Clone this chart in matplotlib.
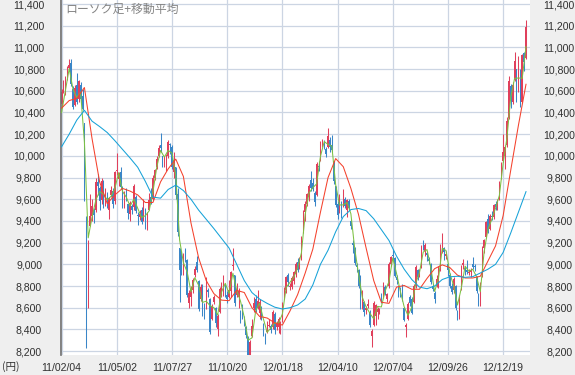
import numpy as np
import matplotlib
matplotlib.use("Agg")
import matplotlib.pyplot as plt

# ---------------- data (each candle = 2 trading days) ----------------
date_labels = ["11/02/04", "11/05/02", "11/07/27", "11/10/20", "12/01/18",
               "12/04/10", "12/07/04", "12/09/26", "12/12/19"]
label_pos = [0, 29, 58, 87, 116, 145, 174, 203, 232]

opens = [10480, 10600, 10610, 10730, 10810, 10860, 10620, 10470,
         10650, 10520, 10650, 10550, 10300, 9440, 8960, 9350, 9450, 9500, 9500,
         9760, 9700, 9590, 9750, 9560, 9640, 9500, 9640, 9680, 9580,
         9860, 9790, 9850, 9700, 9540, 9650, 9560, 9460, 9540, 9530,
         9620, 9450, 9440, 9500, 9420, 9500, 9340, 9500, 9620, 9600,
         9800, 9900, 10000, 10100, 10000, 9960, 9900, 10000, 10100,
         10080, 9850, 9900, 9650, 9150, 9100, 8950, 9100, 9040, 8640, 8700, 8760, 8900,
         9020, 8850, 8680, 8800, 8580, 8600, 8760, 8680, 8500, 8650,
         8600, 8400, 8560, 8760, 8750, 8800,
         8720, 8700, 8750, 8980, 8900, 8720, 8700, 8550, 8580, 8500, 8420, 8330, 8150, 8340,
         8600, 8680, 8600, 8550, 8600, 8450, 8350, 8380, 8430, 8430, 8420, 8540, 8420, 8420, 8400,
         8480, 8700, 8760, 8900, 8790, 8790, 8850, 8910, 9020, 8970, 9080, 9300, 9480, 9560, 9620,
         9780, 9750, 9660, 9640, 9900, 9960, 10100, 10140, 10060, 10080, 10150, 10100, 9950, 9720,
         9560, 9480, 9560, 9540, 9600, 9500, 9580, 9400, 9200, 9150, 8990, 8950, 8850, 8600, 8650, 8580, 8620,
         8560, 8340, 8440, 8520, 8560, 8560, 8680, 8700, 8790, 8680, 8800, 9000,
         9080, 9060, 8880, 8800, 8750, 8760, 8600, 8420, 8500, 8700, 8680, 8650, 8800, 8950, 8900, 8980, 9200, 9120, 9100, 9050, 9000,
         8800, 8740, 8800, 8840, 8950, 9140, 9150, 9080,
         9000, 8900, 8800, 8760, 8800, 8560, 8520, 8780, 8990, 8960, 8950, 8920, 8930,
         9000, 8980, 8880, 8730, 8650, 8900, 9150, 9250, 9420, 9330, 9450, 9440, 9560, 9520, 9600, 9840,
         9950, 10000, 10100, 10350, 10640, 10500, 10700, 10800, 10600, 10740, 10500, 10950, 10900]

highs = [10620, 10700, 10740, 10830, 10890, 10890, 10640, 10650,
         10760, 10700, 10680, 10620, 10300, 9450, 9220, 9650, 9600, 9520, 9800,
         9830, 9720, 9800, 9780, 9700, 9670, 9620, 9720, 9700, 9860,
         10030, 9850, 9900, 9720, 9680, 9700, 9560, 9580, 9560, 9740,
         9640, 9480, 9500, 9530, 9600, 9520, 9480, 9660, 9700, 9820,
         9880, 10000, 10100, 10210, 10000, 10000, 10020, 10150, 10120,
         10100, 10040, 9900, 9700, 9150, 9120, 9100, 9150, 9050, 8760, 8800, 8870, 8980,
         9080, 8860, 8820, 8820, 8640, 8880, 8780, 8690, 8630, 8720,
         8610, 8540, 8790, 8840, 8900, 8820,
         8750, 8860, 8940, 9150, 8900, 8830, 8780, 8580, 8630, 8520, 8430, 8340, 8300, 8500,
         8700, 8720, 8760, 8680, 8620, 8460, 8370, 8480, 8500, 8450, 8580, 8560, 8480, 8510, 8480,
         8650, 8790, 8890, 8920, 8830, 8890, 8940, 9020, 9060, 9070, 9260, 9500, 9580, 9660, 9740,
         9860, 9800, 9680, 9940, 9950, 10140, 10160, 10150, 10080, 10255, 10170, 10190, 9950, 9720,
         9580, 9650, 9580, 9690, 9620, 9600, 9600, 9420, 9220, 9160, 9010, 8960, 8900, 8760, 8660, 8620, 8680,
         8580, 8400, 8660, 8630, 8610, 8600, 8740, 8840, 8810, 8740, 9020, 9080,
         9140, 9070, 8900, 8810, 8790, 8820, 8610, 8460, 8650, 8720, 8700, 8820, 8990, 8960, 8960, 9180, 9220, 9200, 9120, 9070, 9010,
         8820, 8750, 8900, 8980, 9190, 9290, 9160, 9120,
         9010, 8920, 8830, 8880, 8810, 8580, 8720, 8990, 9050, 8980, 9040, 8960, 8970,
         9070, 9000, 8890, 8740, 8840, 9170, 9230, 9400, 9460, 9460, 9490, 9560, 9580, 9600, 9770, 9940,
         10200, 10100, 10360, 10740, 10660, 10680, 10960, 10800, 10920, 10800, 10940, 10960, 11250]

lows = [10460, 10580, 10560, 10700, 10780, 10640, 10430, 10460,
        10480, 10500, 10480, 10420, 9580, 8227, 8600, 9350, 9400, 9380, 9480,
        9640, 9500, 9560, 9520, 9540, 9520, 9420, 9620, 9520, 9560,
        9820, 9720, 9700, 9520, 9520, 9580, 9420, 9400, 9460, 9500,
        9470, 9360, 9410, 9370, 9400, 9330, 9320, 9500, 9560, 9590,
        9780, 9880, 9990, 10040, 9900, 9900, 9860, 9980, 10020,
        9880, 9800, 9600, 9260, 8656, 8900, 8900, 9020, 8700, 8600, 8620, 8740, 8880,
        8930, 8570, 8660, 8520, 8500, 8590, 8700, 8360, 8490, 8630,
        8420, 8343, 8550, 8700, 8710, 8700,
        8640, 8690, 8700, 8950, 8620, 8700, 8600, 8460, 8500, 8430, 8320, 8150, 8135, 8330,
        8560, 8560, 8590, 8500, 8490, 8340, 8270, 8370, 8420, 8370, 8400, 8360, 8390, 8370, 8360,
        8470, 8680, 8740, 8800, 8760, 8770, 8820, 8880, 8930, 8960, 9040, 9290, 9400, 9540, 9580,
        9680, 9680, 9540, 9630, 9860, 9950, 10080, 10060, 9990, 10070, 10040, 10040, 9740, 9530,
        9420, 9470, 9430, 9530, 9520, 9440, 9500, 9330, 9100, 8990, 8930, 8780, 8590, 8590, 8520, 8540, 8600,
        8420, 8238, 8430, 8440, 8500, 8540, 8640, 8690, 8720, 8650, 8780, 8980,
        9040, 8880, 8820, 8700, 8700, 8660, 8480, 8328, 8490, 8620, 8540, 8640, 8780, 8860, 8880, 8970, 9130, 9080, 9030, 9000, 8820,
        8750, 8640, 8790, 8780, 8940, 9100, 9040, 9050,
        8890, 8780, 8730, 8740, 8580, 8488, 8500, 8760, 8960, 8900, 8910, 8900, 8880,
        8960, 8940, 8740, 8620, 8620, 8880, 9100, 9240, 9290, 9320, 9410, 9420, 9500, 9500, 9590, 9790,
        9940, 9880, 10080, 10340, 10440, 10480, 10690, 10500, 10590, 10450, 10490, 10780, 10890]

closes = [10592, 10617, 10725, 10808, 10842, 10665, 10452, 10624,
          10492, 10693, 10525, 10434, 9620, 9093, 9207, 9449, 9536, 9459, 9755,
          9718, 9584, 9768, 9555, 9653, 9556, 9607, 9682, 9558, 9849,
          9870, 9819, 9716, 9558, 9662, 9607, 9477, 9562, 9504, 9719,
          9492, 9442, 9467, 9391, 9574, 9351, 9459, 9597, 9578, 9797,
          9868, 9972, 10071, 10069, 9963, 9974, 10005, 10132, 10097,
          9901, 9965, 9637, 9299, 8944, 8981, 9086, 9057, 8719, 8733, 8772, 8851, 8955,
          8950, 8590, 8793, 8535, 8518, 8864, 8741, 8374, 8615, 8700,
          8456, 8522, 8773, 8823, 8879, 8772,
          8678, 8762, 8926, 8988, 8640, 8767, 8755, 8514, 8541, 8479, 8349, 8165, 8287, 8434,
          8643, 8575, 8664, 8653, 8519, 8401, 8336, 8395, 8440, 8398, 8560, 8390, 8448, 8500, 8466,
          8639, 8765, 8883, 8841, 8802, 8876, 8929, 9002, 8947, 9052, 9238, 9485, 9554, 9647, 9722,
          9707, 9698, 9576, 9929, 9899, 10123, 10141, 10127, 10018, 10182, 10083, 10050, 9767, 9546,
          9458, 9637, 9464, 9588, 9542, 9590, 9520, 9350, 9181, 9009, 8973, 8801, 8611, 8729, 8563, 8593, 8633,
          8440, 8383, 8640, 8624, 8587, 8569, 8656, 8824, 8735, 8730, 9006, 9066,
          9079, 8896, 8851, 8724, 8726, 8669, 8488, 8443, 8635, 8641, 8555, 8804, 8978, 8885, 8929, 9162, 9156, 9178, 9085, 9033, 8839,
          8775, 8680, 8869, 8960, 9159, 9232, 9110, 9091,
          8949, 8796, 8746, 8863, 8596, 8534, 8701, 8983, 9010, 8955, 8933, 8929, 8946,
          8975, 8972, 8757, 8661, 8830, 9153, 9222, 9389, 9308, 9446, 9432, 9545, 9533, 9581, 9737, 9923,
          10039, 10080, 10322, 10688, 10508, 10652, 10879, 10609, 10747, 10487, 10926, 10866, 11191]

# moving averages (green: every 2 candles, red/blue: every 4 candles)
ma_short = [10400, 10600, 10805, 10615, 10537, 10586, 10127, 9244, 9435, 9593,
            9672, 9646, 9595, 9627, 9699, 9845, 9673, 9619, 9537, 9602,
            9517, 9432, 9448, 9493, 9669, 9895, 10050, 9989, 10050, 10026,
            9821, 9225, 9016, 8928, 8746, 8877, 8807, 8649, 8660, 8619,
            8601, 8531, 8743, 8825, 8730, 8918, 8760, 8661, 8511, 8301,
            8321, 8574, 8642, 8499, 8373, 8414, 8460, 8457, 8542, 8787,
            8834, 8882, 8965, 9105, 9463, 9658, 9706, 9742, 9995, 10132,
            10105, 10090, 9735, 9547, 9548, 9570, 9466, 9146, 8911, 8696,
            8608, 8548, 8497, 8612, 8607, 8755, 8841, 9059, 8915, 8750,
            8608, 8529, 8605, 8824, 8921, 9113, 9136, 8966, 8750, 8868,
            9148, 9127, 8916, 8803, 8625, 8780, 8983, 8936, 8954, 8887,
            8748, 9116, 9323, 9413, 9518, 9634, 9932, 10169, 10543, 10714,
            10718, 10715, 11008]

ma_mid = [10440, 10510, 10530, 10630, 10160, 9760, 9560, 9640, 9700, 9675,
          9640, 9570, 9570, 9760, 9880, 9970, 9810, 9380, 9060, 8850,
          8730, 8670, 8665, 8760, 8740, 8600, 8520, 8505, 8460, 8440,
          8570, 8720, 8920, 9140, 9480, 9800, 9975, 9900, 9700, 9460,
          9150, 8850, 8650, 8640, 8790, 8805, 8770, 8770, 8870, 8960,
          8995, 8970, 8900, 8874, 8874, 8890, 9030, 9170, 9450, 9870,
          10280, 10660]

ma_long = [10084, 10200, 10330, 10420, 10320, 10270, 10215, 10140, 10060, 9980,
           9895, 9765, 9620, 9610, 9690, 9730, 9680, 9600, 9500, 9415,
           9330, 9240, 9150, 9000, 8850, 8740, 8680, 8640, 8605, 8588,
           8600, 8625, 8680, 8810, 9000, 9130, 9300, 9440, 9505, 9515,
           9495, 9420, 9320, 9220, 9075, 8955, 8860, 8790, 8775, 8800,
           8860, 8885, 8890, 8880, 8886, 8920, 8955, 9000, 9110, 9290,
           9480, 9670]

y_ticks = list(range(8200, 11401, 200))

# ---------------- drawing ----------------
UP = "#e0405c"
DOWN = "#3a86c8"
NUM_FONT = ["Liberation Sans", "DejaVu Sans"]

fig = plt.figure(figsize=(5.75, 3.75), dpi=100, facecolor="#efefef")
ax = fig.add_axes([61 / 575, 20 / 375, 469 / 575, 355 / 375])
ax.set_facecolor("white")

o = np.array(opens, float)
h = np.array(highs, float)
l = np.array(lows, float)
c = np.array(closes, float)
idx = np.arange(len(c))
cols = np.where(c >= o, UP, DOWN)

ax.vlines(idx, l, h, colors=cols, lw=0.75, zorder=2)
ax.bar(idx, np.maximum(np.abs(c - o), 10), bottom=np.minimum(o, c), width=0.75,
       color=cols, linewidth=0, zorder=2)

ax.plot(np.arange(len(ma_short)) * 2, ma_short, color="#7cc142", lw=0.75, zorder=3)
ax.plot(np.arange(len(ma_mid)) * 4, ma_mid, color="#f4412c", lw=0.75, zorder=3)
ax.plot(np.arange(len(ma_long)) * 4, ma_long, color="#16a2d8", lw=0.75, zorder=3)

ax.set_xlim(-0.3, 246.1)
ax.set_ylim(8164, 11437)

ax.set_yticks(y_ticks)
ax.set_yticklabels([f"{v:,}" for v in y_ticks], family=NUM_FONT, fontsize=7.6,
                   color="#303030", ha="center")
ax.set_xticks(label_pos)
ax.set_xticklabels(date_labels, family=NUM_FONT, fontsize=7.6, color="#303030")
ax.tick_params(axis="y", length=0, pad=23)
ax.tick_params(axis="x", length=0, pad=5.5)
ax.grid(True, color="#ccd5e3", lw=0.9, zorder=0)
ax.set_axisbelow(True)
for s in ["top", "right", "bottom"]:
    ax.spines[s].set_visible(False)
ax.spines["left"].set_color("#6e6e6e")
ax.spines["left"].set_linewidth(1.2)

ax2 = ax.twinx()
ax2.set_ylim(ax.get_ylim())
ax2.set_yticks(y_ticks)
ax2.set_yticklabels([f"{v:,}" for v in y_ticks], family=NUM_FONT, fontsize=7.6,
                    color="#303030", ha="center")
ax2.tick_params(axis="y", length=0, pad=21)
for s in ax2.spines.values():
    s.set_visible(False)

ax.text(0.01, 0.992, "ローソク足+移動平均", transform=ax.transAxes,
        family=["Noto Sans CJK JP", "DejaVu Sans"], fontsize=8.6, color="#858585",
        ha="left", va="top", zorder=5)
fig.text(11 / 575, 1 - 367 / 375, "(円)", family=["Noto Sans CJK JP", "DejaVu Sans"],
         fontsize=7.6, color="#303030", ha="center", va="center")

fig.savefig("out.png", dpi=100, facecolor=fig.get_facecolor())
